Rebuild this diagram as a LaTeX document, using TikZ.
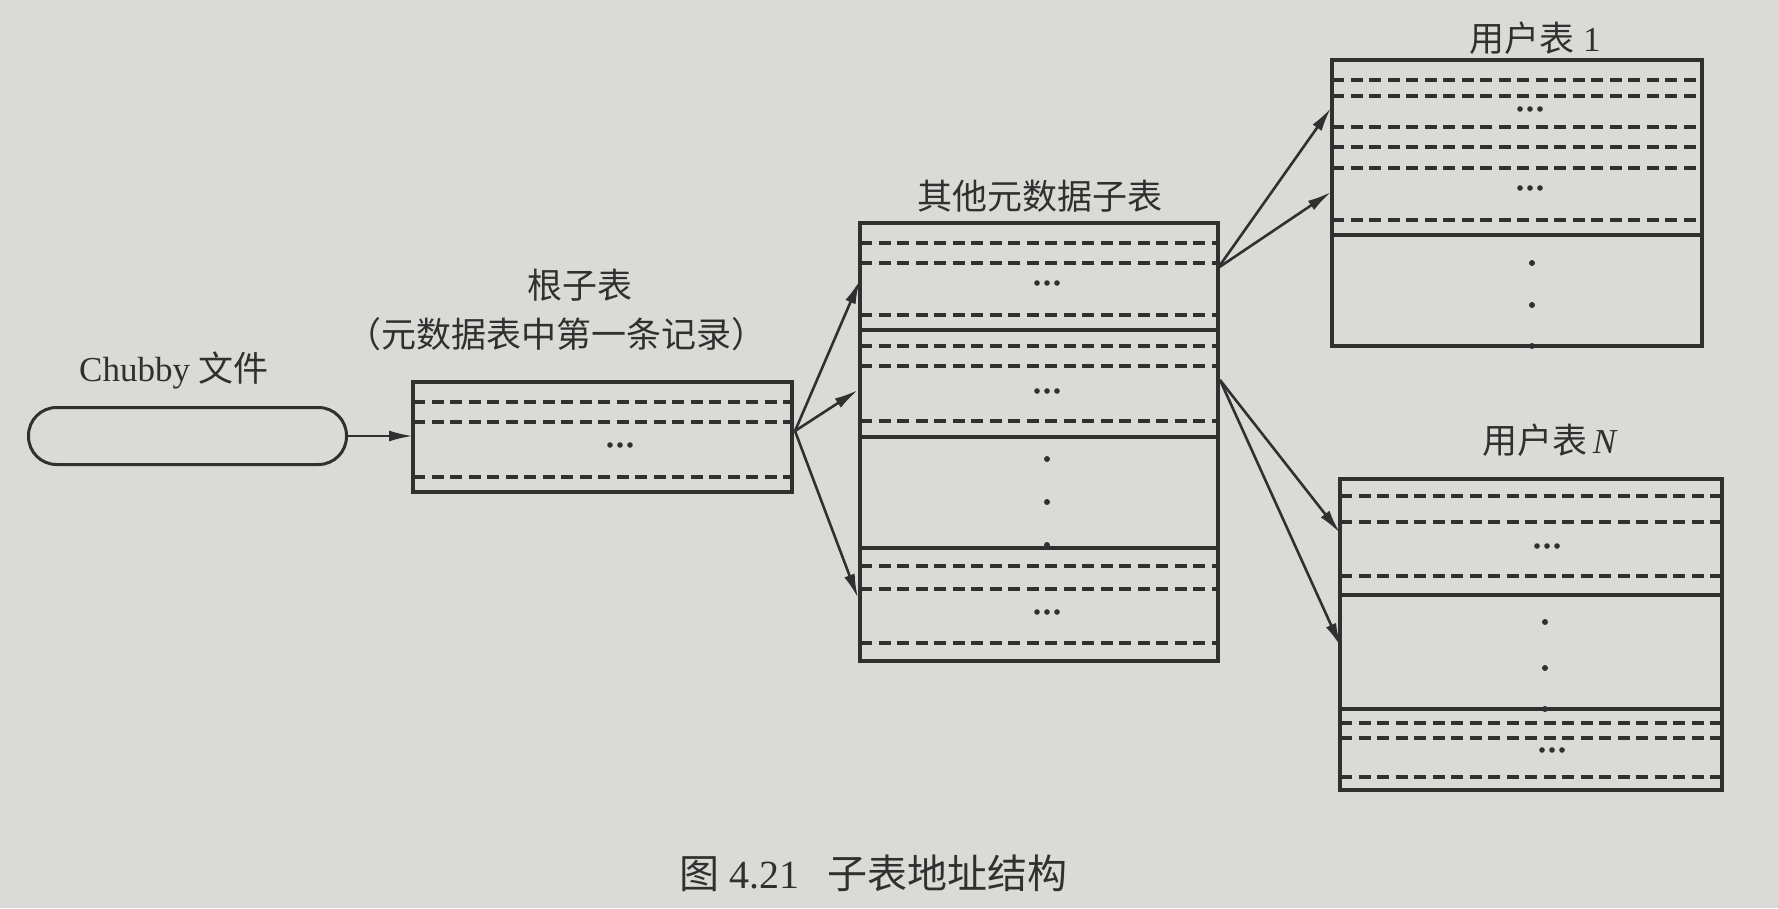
\documentclass[tikz,border=0pt]{standalone}
\usepackage{fontspec}
\setmainfont{Liberation Serif}
\newfontfamily\cjk{Noto Sans CJK SC}
\usetikzlibrary{arrows.meta}
\definecolor{bgc}{RGB}{218,218,215}
\definecolor{inkc}{RGB}{48,48,48}
\tikzset{
  tbl/.style={draw=inkc, line width=3.2pt, rectangle, anchor=north west, inner sep=0pt, outer sep=0pt},
  rowline/.style={draw=inkc, line width=3.4pt, dash pattern=on 12pt off 6.5pt},
  sepline/.style={draw=inkc, line width=3.2pt},
  arr/.style={draw=inkc, line width=2.6pt, -{Latex[length=24pt,width=11pt]}},
  lbl/.style={text=inkc, inner sep=0pt, font=\fontsize{35}{40}\selectfont},
  captxt/.style={text=inkc, inner sep=0pt, font=\fontsize{40}{46}\selectfont},
  pics/hdots/.style={code={\fill[inkc] (-10,0) circle (2.8pt) (0,0) circle (2.8pt) (10,0) circle (2.8pt);}},
  pics/vdot/.style={code={\fill[inkc] (0,0) circle (3pt);}}
}
\begin{document}
\begin{tikzpicture}[x=1pt,y=-1pt]
\fill[bgc] (0,0) rectangle (1778,908);
\useasboundingbox (0,0) rectangle (1778,908);

% Chubby file
\node[lbl] (lchubby) at (174,370) {Chubby {\cjk 文件}};
\node[draw=inkc, line width=3pt, rounded corners=28pt, minimum width=318pt, minimum height=57pt, inner sep=0pt, anchor=north west] (chubby) at (27,406) {};

% root tablet
\node[lbl] (lroot) at (580,285) {\cjk 根子表};
\node[lbl] (lroot2) at (556,334) {\cjk （元数据表中第一条记录）};
\node[tbl, minimum width=379pt, minimum height=110pt] (root) at (413,382) {};
\foreach \y in {402,422,477} \draw[rowline] (root.west |- 0,\y) -- (root.east |- 0,\y);
\pic at (620,445) {hdots};

% metadata tablets
\node[lbl] (lmeta) at (1040,196) {\cjk 其他元数据子表};
\node[tbl, minimum width=358pt, minimum height=438pt] (meta) at (860,223) {};
\foreach \y in {330,437,548} \draw[sepline] (meta.west |- 0,\y) -- (meta.east |- 0,\y);
\foreach \y in {243,263,315,346,366,421,566,589,643} \draw[rowline] (meta.west |- 0,\y) -- (meta.east |- 0,\y);
\pic at (1047,283) {hdots};
\pic at (1047,391) {hdots};
\pic at (1047,612) {hdots};
\foreach \y in {459,502,545} \pic at (1047,\y) {vdot};

% user table 1
\node[lbl] (lu1) at (1535,38) {{\cjk 用户表} 1};
\node[tbl, minimum width=370pt, minimum height=286pt] (u1) at (1332,60) {};
\draw[sepline] (u1.west |- 0,235) -- (u1.east |- 0,235);
\foreach \y in {80,96,127,147,168,220} \draw[rowline] (u1.west |- 0,\y) -- (u1.east |- 0,\y);
\pic at (1530,109) {hdots};
\pic at (1530,188) {hdots};
\foreach \y in {263,305,346} \pic at (1532,\y) {vdot};

% user table N
\node[lbl] (lun) at (1550,440) {{\cjk 用户表}\,\textit{N}};
\node[tbl, minimum width=382pt, minimum height=311pt] (un) at (1340,479) {};
\foreach \y in {595,709} \draw[sepline] (un.west |- 0,\y) -- (un.east |- 0,\y);
\foreach \y in {496,522,576,723,738,777} \draw[rowline] (un.west |- 0,\y) -- (un.east |- 0,\y);
\pic at (1547,546) {hdots};
\pic at (1552,750) {hdots};
\foreach \y in {622,668,709} \pic at (1545,\y) {vdot};

% anchor points
\coordinate (rootout) at (795,431);
\coordinate (mt1) at (860,280);
\coordinate (mt2) at (858,390);
\coordinate (mt3) at (858,598);
\coordinate (mout1) at (1218,268);
\coordinate (mout2) at (1220,380);
\coordinate (ut1) at (1331,108);
\coordinate (ut2) at (1331,192);
\coordinate (unt1) at (1340,533);
\coordinate (unt2) at (1341,647);

% connectors
\draw[arr] (chubby.east) -- (root.west |- chubby.east);
\draw[arr] (rootout) -- (mt1);
\draw[arr] (rootout) -- (mt2);
\draw[arr] (rootout) -- (mt3);
\draw[arr] (mout1) -- (ut1);
\draw[arr] (mout1) -- (ut2);
\draw[arr] (mout2) -- (unt1);
\draw[arr] (mout2) -- (unt2);

% caption
\node[captxt] (caption) at (873,873) {{\cjk 图} 4.21\hspace{28pt}{\cjk 子表地址结构}};
\end{tikzpicture}
\end{document}
